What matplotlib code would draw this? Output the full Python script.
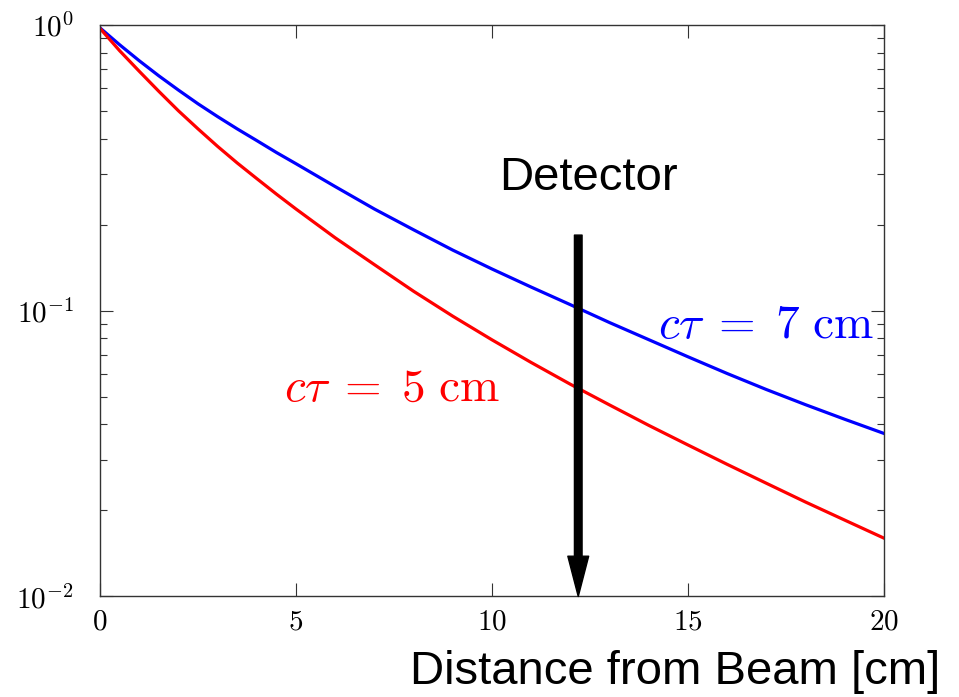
import numpy as np
import matplotlib
matplotlib.use("Agg")
import matplotlib.pyplot as plt
from matplotlib.ticker import FixedLocator, FuncFormatter, LogLocator, NullLocator

plt.rcParams['mathtext.fontset'] = 'cm'

# distance from beam [cm] and surviving fraction
dist = [0, 0.5, 1, 1.5, 2, 2.5, 3, 3.5, 4, 4.5, 5, 6, 7, 8, 9, 10, 11, 12, 13,
        14, 15, 16, 17, 18, 19, 20]
frac_7cm = [0.977, 0.853, 0.750, 0.664, 0.592, 0.530, 0.478, 0.433, 0.394, 0.358,
            0.327, 0.272, 0.227, 0.192, 0.163, 0.140, 0.121, 0.105, 0.0909,
            0.0792, 0.0690, 0.0603, 0.0530, 0.0469, 0.0417, 0.0372]
frac_5cm = [0.973, 0.813, 0.689, 0.586, 0.501, 0.433, 0.376, 0.329, 0.290, 0.256,
            0.227, 0.180, 0.145, 0.117, 0.0957, 0.0791, 0.0659, 0.0553, 0.0468,
            0.0397, 0.0339, 0.0290, 0.0249, 0.0214, 0.0185, 0.0160]
detector_x = 12.2
x_ticks = [0, 5, 10, 15, 20]

fig = plt.figure(figsize=(9.59, 6.97), dpi=100)
ax = fig.add_axes([0.1043, 0.1442, 0.8175, 0.8199])

ax.plot(dist, frac_7cm, color='blue', lw=2.3)
ax.plot(dist, frac_5cm, color='red', lw=2.3)

ax.set_yscale('log')
ax.set_xlim(0, 20)
ax.set_ylim(1e-2, 1)

ax.xaxis.set_major_locator(FixedLocator(x_ticks))
ax.xaxis.set_minor_locator(NullLocator())
ax.xaxis.set_major_formatter(FuncFormatter(lambda v, p: r'$%d$' % v))
ax.yaxis.set_major_locator(LogLocator(base=10, numticks=10))
ax.yaxis.set_minor_locator(LogLocator(base=10, subs=np.arange(2, 10), numticks=10))
ax.yaxis.set_major_formatter(FuncFormatter(lambda v, p: r'$10^{%d}$' % round(np.log10(v))))

ax.tick_params(which='both', direction='in', top=True, right=True,
               color='#333333', width=0.8, labelsize=21)
ax.tick_params(which='major', length=9.5)
ax.tick_params(which='minor', length=5)
ax.tick_params(axis='x', which='major', pad=8)
ax.tick_params(axis='y', which='major', pad=19)
for s in ax.spines.values():
    s.set_color('#333333')
    s.set_linewidth(1.0)

# detector arrow
ax.annotate('', xy=(detector_x, 0.01), xytext=(detector_x, 0.184),
            arrowprops=dict(width=5.5, headwidth=15, headlength=29,
                            facecolor='black', edgecolor='black', shrink=0))
ax.text(12.45, 0.292, 'Detector', family='Liberation Sans', fontsize=34,
        ha='center', va='center')

ax.text(19.75, 0.089, r'$c\tau\;=\;7\ \mathrm{cm}$', color='blue', fontsize=34,
        ha='right', va='center')
ax.text(7.46, 0.0537, r'$c\tau\;=\;5\ \mathrm{cm}$', color='red', fontsize=34,
        ha='center', va='center')

fig.text(675 / 959, 1 - 672 / 697, 'Distance from Beam [cm]', family='Liberation Sans',
         fontsize=34, ha='center', va='center')

fig.savefig('out.png', dpi=100)
